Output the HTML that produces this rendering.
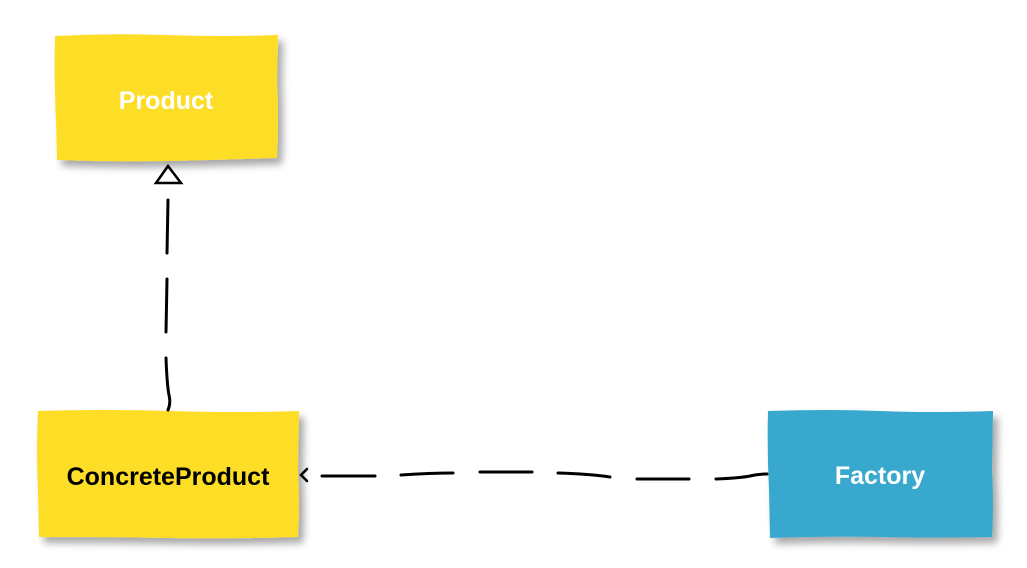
<!DOCTYPE html>
<html><head><meta charset="utf-8"><style>
html,body{margin:0;padding:0;background:#fff;}
body{width:1027px;height:568px;overflow:hidden;position:relative;font-family:"Liberation Sans",sans-serif;}
svg{position:absolute;left:0;top:0;}
</style></head><body>
<svg width="1027" height="568" viewBox="0 0 1027 568">
<defs>
<filter id="sh" x="-10%" y="-10%" width="130%" height="130%">
<feGaussianBlur in="SourceAlpha" stdDeviation="4"/>
<feOffset dx="5" dy="6" result="b"/>
<feComponentTransfer><feFuncA type="linear" slope="0.35"/></feComponentTransfer>
<feMerge><feMergeNode/><feMergeNode in="SourceGraphic"/></feMerge>
</filter>
</defs>
<path filter="url(#sh)" fill="#FEDD26" d="M55,36 Q110,33 165,35 T278,35 L277,80 Q279,120 277,158 Q220,160 165,161 T57,160 L56,120 Q54,80 55,36Z"/>
<path filter="url(#sh)" fill="#FEDD26" d="M38,411 Q100,409 170,411 T299,411 L298,470 Q300,505 298,537 Q230,539 170,538 T39,537 L38,490 Q36,450 38,411Z"/>
<path filter="url(#sh)" fill="#37A8CF" d="M768,411 Q830,409 880,411 T993,411 L992,470 Q994,505 992,537 Q930,538 880,537 T770,538 L769,490 Q767,450 768,411Z"/>
<text x="166" y="109" text-anchor="middle" font-size="25" font-weight="bold" fill="#fff" font-family="Liberation Sans, sans-serif">Product</text>
<text x="168" y="485" text-anchor="middle" font-size="25" font-weight="bold" fill="#000" font-family="Liberation Sans, sans-serif">ConcreteProduct</text>
<text x="880" y="484" text-anchor="middle" font-size="25" font-weight="bold" fill="#fff" font-family="Liberation Sans, sans-serif">Factory</text>
<g stroke="#000" stroke-width="3" fill="none" stroke-linecap="round">
<path d="M168,200 L167,253"/>
<path d="M167,279 L166,332"/>
<path d="M166,358 Q167,385 169,395 Q171,403 168,410"/>
<path d="M156,183 L168,166 L181,183 Z" stroke-width="2.5"/>
<path d="M307,469 L301,475 L307,481" stroke-width="2.5"/>
<path d="M322,476 L375,476"/>
<path d="M401,475 Q430,473 453,473"/>
<path d="M480,472 L532,472"/>
<path d="M558,473 Q590,474 610,477"/>
<path d="M637,479 L689,479"/>
<path d="M716,479 Q740,478 750,476 Q758,474 767,474"/>
</g>
</svg>
</body></html>
